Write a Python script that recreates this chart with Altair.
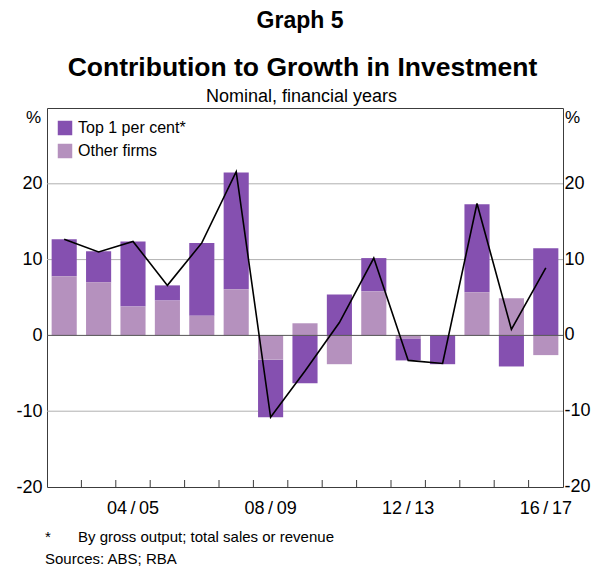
import altair as alt
import pandas as pd

# ---- data ----
years = ["02/03", "03/04", "04/05", "05/06", "06/07", "07/08", "08/09", "09/10",
         "10/11", "11/12", "12/13", "13/14", "14/15", "15/16", "16/17"]
top1 = [4.9, 4.1, 8.6, 2.0, 9.6, 15.4, -7.6, -6.3, 5.4, 4.4, -2.9, -3.8, 11.6, -4.1, 11.5]
other = [7.8, 7.0, 3.8, 4.6, 2.6, 6.1, -3.2, 1.6, -3.8, 5.8, -0.4, 0.0, 5.7, 4.9, -2.6]
total = [12.7, 11.0, 12.4, 6.6, 12.2, 21.6, -10.8, -4.7, 1.7, 10.2, -3.3, -3.7, 17.4, 0.8, 8.9]
shown_labels = ["04/05", "08/09", "12/13", "16/17"]
y_ticks = [-20, -10, 0, 10, 20]
grid_vals = [-10, 10, 20]
series_names = ["Top 1 per cent*", "Other firms"]

FONT = "Liberation Sans"
DARK = "#8550b0"
LIGHT = "#b591be"
W, H = 516, 379

bars_df = pd.DataFrame(
    [{"year": y, "series": series_names[0], "value": v, "ord": 1} for y, v in zip(years, top1)]
    + [{"year": y, "series": series_names[1], "value": v, "ord": 0} for y, v in zip(years, other)]
)
line_df = pd.DataFrame({"year": years, "total": total})
tick_df = pd.DataFrame({"year": years[:-1]})
ylab_df = pd.DataFrame({"v": y_ticks})
grid_df = pd.DataFrame({"v": grid_vals})

xscale = alt.Scale(domain=years, paddingInner=0.27, paddingOuter=0.135)
yscale = alt.Scale(domain=[-20, 30], nice=False, zero=False)

label_expr = "replace(datum.label, '/', '\u2009/\u2009')"
xaxis = alt.Axis(values=shown_labels, ticks=False, domain=False, grid=False, title=None,
                 labelAngle=0, labelFont=FONT, labelFontSize=18, labelColor="#000",
                 labelPadding=12, labelExpr=label_expr)
yaxis = alt.Axis(values=y_ticks, ticks=False, domain=False, grid=False, title=None,
                 labelFont=FONT, labelFontSize=18, labelColor="#000", labelPadding=5,
                 labelExpr="toString(datum.value)")


def X(field="year:N"):
    return alt.X(field, sort=years, scale=xscale, axis=xaxis, title=None)


def Y(field):
    return alt.Y(field, scale=yscale, axis=yaxis, title=None)


grid = alt.Chart(grid_df).mark_rule(color="#b0b0b0", strokeWidth=1).encode(y=Y("v:Q"))

bars = alt.Chart(bars_df).mark_bar().encode(
    x=X(),
    y=alt.Y("value:Q", stack="zero", scale=yscale, axis=yaxis, title=None),
    color=alt.Color("series:N", scale=alt.Scale(domain=series_names, range=[DARK, LIGHT]),
                    legend=alt.Legend(title=None, orient="none", legendX=10, legendY=12,
                                      symbolType="square", symbolSize=210, symbolStrokeWidth=0,
                                      symbolOpacity=1, labelFont=FONT, labelFontSize=16,
                                      labelColor="#000", labelOffset=5, rowPadding=7,
                                      padding=0)),
    order=alt.Order("ord:Q", sort="ascending"),
)

zero = alt.Chart(pd.DataFrame({"v": [0]})).mark_rule(color="#555555", strokeWidth=1).encode(
    y=Y("v:Q")
)

line = alt.Chart(line_df).mark_line(color="#000000", strokeWidth=1.6).encode(
    x=X(), y=Y("total:Q"),
)

ticks = alt.Chart(tick_df).mark_rule(color="#3c3c3c", strokeWidth=1, xOffset=W / 15 / 2).encode(
    x=X(),
    y=alt.value(H),
    y2=alt.value(H - 7),
)

right_labels = alt.Chart(ylab_df).transform_calculate(
    lab="toString(datum.v)"
).mark_text(
    font=FONT, fontSize=18, align="left", baseline="middle", color="#000"
).encode(
    y=Y("v:Q"),
    x=alt.value(W + 1.5),
    text=alt.Text("lab:N"),
)


def txt(s, x, y, size, weight="normal", align="center"):
    return alt.Chart(pd.DataFrame({"t": [s]})).mark_text(
        font=FONT, fontSize=size, fontWeight=weight, align=align, baseline="alphabetic",
        color="#000"
    ).encode(text="t:N", x=alt.value(x), y=alt.value(y))


texts = [
    txt("Graph 5", 253, -80, 23, "bold"),
    txt("Contribution to Growth in Investment", 255.5, -32, 26.5, "bold"),
    txt("Nominal, financial years", 254.5, -6.5, 18),
    txt("%", -13.5, 14.5, 17),
    txt("%", 525.5, 14.5, 17),
    txt("*", -2, 434, 15, align="left"),
    txt("By gross output; total sales or revenue", 31, 434, 15, align="left"),
    txt("Sources: ABS; RBA", -2, 456, 15, align="left"),
]

chart = alt.layer(grid, bars, zero, line, ticks, right_labels, *texts).properties(
    width=W, height=H,
    padding={"left": 39, "top": 100, "right": 29, "bottom": 79},
    autosize=alt.AutoSizeParams(type="none"),
    background="white",
).configure_view(stroke="#3c3c3c", strokeWidth=1)

chart.save("out.html", embed_options={"renderer": "svg", "actions": False})
